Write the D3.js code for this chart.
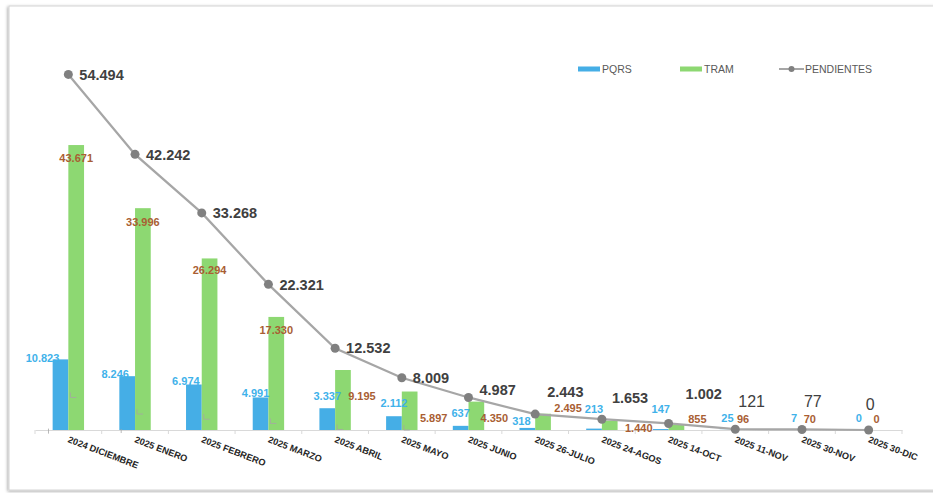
<!DOCTYPE html>
<html>
<head>
<meta charset="utf-8">
<script src="https://cdn.jsdelivr.net/npm/d3@7"></script>
<style>
  body { margin: 0; background: #ffffff; }
  text { font-family: "Liberation Sans", Arial, sans-serif; }
</style>
</head>
<body>
<div id="chart"></div>
<script>
width = 933
height = 493

// data
let categories = ["2024 DICIEMBRE", "2025 ENERO", "2025 FEBRERO", "2025 MARZO", "2025 ABRIL", "2025 MAYO",
    "2025 JUNIO", "2025 26-JULIO", "2025 24-AGOS", "2025 14-OCT", "2025 11-NOV", "2025 30-NOV", "2025 30-DIC"]
let pqrs = [10823, 8246, 6974, 4991, 3337, 2112, 637, 318, 213, 147, 25, 7, 0]
let tram = [43671, 33996, 26294, 17330, 9195, 5897, 4350, 2495, 1440, 855, 96, 70, 0]
let pendientes = [54494, 42242, 33268, 22321, 12532, 8009, 4987, 2443, 1653, 1002, 121, 77, 0]

// label nudges (manual placement, as in the original workbook)
let pqrsNudge = [[-18, -1], [-12, -2], [-8, -3], [-5, -4], [0, -12], [0, -13], [0, -13], [-6, -7], [0, -20], [0, -20], [0, -12], [0, -12], [-2, -12]]
let tramNudge = [[0, 13], [0, 14], [0, 12], [0, 13], [19, 26], [24, 27], [18, 16], [25, -6], [29, 7], [21, -5], [0, -10], [0, -11], [0, -11]]
let pendNudge = [[11, 0], [11, 0], [11, 0], [11, 0], [11, 0], [11, 0], [11, -8], [12, -22], [10, -21], [17, -30], [3, -28], [2, -28], [-3, -26]]
let pendLeader = [0, 0, 0, 0, 0, 0, 1, 1, 1, 1, 0, 2, 2]
let pqrsLeader = [0, 0, 0, 0, 0, 0, 0, 0, 1, 1, 0, 0, 0]

let blue = "#45aee6", green = "#8dd872", lineGray = "#a6a6a6", markGray = "#808080"
let blueText = "#3fb2ea", brownText = "#a95e33", darkText = "#404040"

let fmt = d3.formatLocale({ decimal: ",", thousands: ".", grouping: [3], currency: ["", ""] }).format(",d")

let svg = d3.select("#chart")
    .append("svg")
    .attr("width", width)
    .attr("height", height)

// frame with soft shadow
let defs = svg.append("defs")
let shadow = defs.append("filter").attr("id", "shadow").attr("x", "-5%").attr("y", "-5%").attr("width", "110%").attr("height", "110%")
shadow.append("feDropShadow").attr("dx", -1).attr("dy", 1).attr("stdDeviation", 1.5).attr("flood-color", "#000").attr("flood-opacity", 0.35)

svg.append("rect")
    .attr("x", 9).attr("y", 6)
    .attr("width", 940).attr("height", 484)
    .attr("fill", "#ffffff")
    .attr("stroke", "#d4d4d4")
    .attr("filter", "url(#shadow)")

let x = d3.scaleBand().domain(categories).range([35, 902]).padding(0)
let x1 = d3.scaleBand().domain(["PQRS", "TRAM"]).range([-15.7, 15.7])
let y = d3.scaleLinear().domain([0, 60000]).range([430, 38.5])

let cx = c => x(c) + x.bandwidth() / 2

// axis
let axisG = svg.append("g")
    .attr("transform", "translate(0," + y(0) + ")")
    .call(d3.axisBottom(x).tickSize(0).tickFormat(""))
axisG.select(".domain").attr("stroke", "#d9d9d9").attr("stroke-width", 1)
axisG.selectAll(".tick").remove()
categories.concat([null]).forEach((c, i) => {
    let xx = c ? x(c) : x.range()[1]
    axisG.append("line").attr("x1", xx).attr("x2", xx).attr("y1", 0).attr("y2", 4)
        .attr("stroke", "#d9d9d9")
})

svg.append("g").selectAll("text")
    .data(categories)
    .join("text")
    .attr("transform", d => "translate(" + (cx(d) - 1) + "," + (y(0) + 12) + ") rotate(21)")
    .attr("text-anchor", "start")
    .style("font-family", "'Liberation Sans Narrow', 'Arial Narrow', sans-serif")
    .style("font-weight", "bold")
    .style("font-size", "9.2px")
    .attr("fill", "#262626")
    .text(d => d)

// bars
let bars = svg.append("g")
bars.selectAll(".pqrs")
    .data(pqrs)
    .join("rect")
    .attr("class", "pqrs")
    .attr("x", (d, i) => cx(categories[i]) + x1("PQRS"))
    .attr("width", x1.bandwidth())
    .attr("y", d => y(d))
    .attr("height", d => y(0) - y(d))
    .attr("fill", blue)
bars.selectAll(".tram")
    .data(tram)
    .join("rect")
    .attr("class", "tram")
    .attr("x", (d, i) => cx(categories[i]) + x1("TRAM"))
    .attr("width", x1.bandwidth())
    .attr("y", d => y(d))
    .attr("height", d => y(0) - y(d))
    .attr("fill", green)

// PQRS labels
let pqrsX = i => cx(categories[i]) + x1("PQRS") + x1.bandwidth() / 2
let tramX = i => cx(categories[i]) + x1("TRAM") + x1.bandwidth() / 2

svg.append("g").selectAll("line")
    .data(pqrs)
    .join("line")
    .filter((d, i) => pqrsLeader[i])
    .attr("x1", (d, i) => pqrsX(i) + pqrsNudge[i][0] + 6)
    .attr("x2", (d, i) => pqrsX(i) + pqrsNudge[i][0] + 6)
    .attr("y1", (d, i) => y(d) + pqrsNudge[i][1] + 6)
    .attr("y2", d => y(d))
    .attr("stroke", "#a6a6a6").attr("stroke-width", 0.8)

svg.append("g").selectAll("text")
    .data(pqrs)
    .join("text")
    .attr("x", (d, i) => pqrsX(i) + pqrsNudge[i][0])
    .attr("y", (d, i) => y(d) + pqrsNudge[i][1])
    .attr("dy", "0.36em")
    .attr("text-anchor", "middle")
    .style("font-size", "11px")
    .style("font-weight", "bold")
    .attr("fill", blueText)
    .text(d => fmt(d))

svg.append("g").selectAll("text")
    .data(tram)
    .join("text")
    .attr("x", (d, i) => tramX(i) + tramNudge[i][0])
    .attr("y", (d, i) => y(d) + tramNudge[i][1])
    .attr("dy", "0.36em")
    .attr("text-anchor", "middle")
    .style("font-size", "11px")
    .style("font-weight", "bold")
    .attr("fill", brownText)
    .text(d => fmt(d))

// PENDIENTES line
let line = d3.line()
    .x((d, i) => cx(categories[i]))
    .y(d => y(d))

svg.append("path")
    .datum(pendientes)
    .attr("d", line)
    .attr("fill", "none")
    .attr("stroke", lineGray)
    .attr("stroke-width", 2.25)

// leaders for moved labels
svg.append("g").selectAll("path")
    .data(pendientes)
    .join("path")
    .filter((d, i) => pendLeader[i])
    .attr("d", (d, i) => {
        let px = cx(categories[i]) + 2, py = y(d) - 5
        let ly = y(d) + pendNudge[i][1]
        if (pendLeader[i] == 2) return "M" + px + "," + py + "V" + (ly + 9)
        return "M" + px + "," + py + "V" + ly + "H" + (cx(categories[i]) + pendNudge[i][0] - 3)
    })
    .attr("fill", "none")
    .attr("stroke", "#a6a6a6")
    .attr("stroke-width", 0.8)

svg.append("g").selectAll("circle")
    .data(pendientes)
    .join("circle")
    .attr("cx", (d, i) => cx(categories[i]))
    .attr("cy", d => y(d))
    .attr("r", 4.5)
    .attr("fill", markGray)

svg.append("g").selectAll("text")
    .data(pendientes)
    .join("text")
    .attr("x", (d, i) => cx(categories[i]) + pendNudge[i][0])
    .attr("y", (d, i) => y(d) + pendNudge[i][1])
    .attr("dy", "0.36em")
    .attr("text-anchor", "start")
    .style("font-size", (d, i) => i >= 10 ? "16px" : "14.5px")
    .style("font-weight", (d, i) => i >= 10 ? "normal" : "bold")
    .attr("fill", darkText)
    .text(d => fmt(d))

// legend
let legend = svg.append("g").attr("transform", "translate(0,69)")
let legendItems = [
    { name: "PQRS", x: 578, type: "bar", color: blue },
    { name: "TRAM", x: 680, type: "bar", color: green },
    { name: "PENDIENTES", x: 779, type: "line", color: lineGray }
]
legendItems.forEach(item => {
    let g = legend.append("g").attr("transform", "translate(" + item.x + ",0)")
    if (item.type == "bar") {
        g.append("rect").attr("x", 0).attr("y", -2.5).attr("width", 22).attr("height", 5).attr("fill", item.color)
        g.append("text").attr("x", 24).attr("dy", "0.36em")
            .style("font-size", "10.5px").attr("fill", "#595959").text(item.name)
    } else {
        g.append("line").attr("x1", 0).attr("x2", 25).attr("stroke", item.color).attr("stroke-width", 2)
        g.append("circle").attr("cx", 12.5).attr("r", 3).attr("fill", markGray)
        g.append("text").attr("x", 26).attr("dy", "0.36em")
            .style("font-size", "10.5px").attr("fill", "#595959").text(item.name)
    }
})
</script>
</body>
</html>
